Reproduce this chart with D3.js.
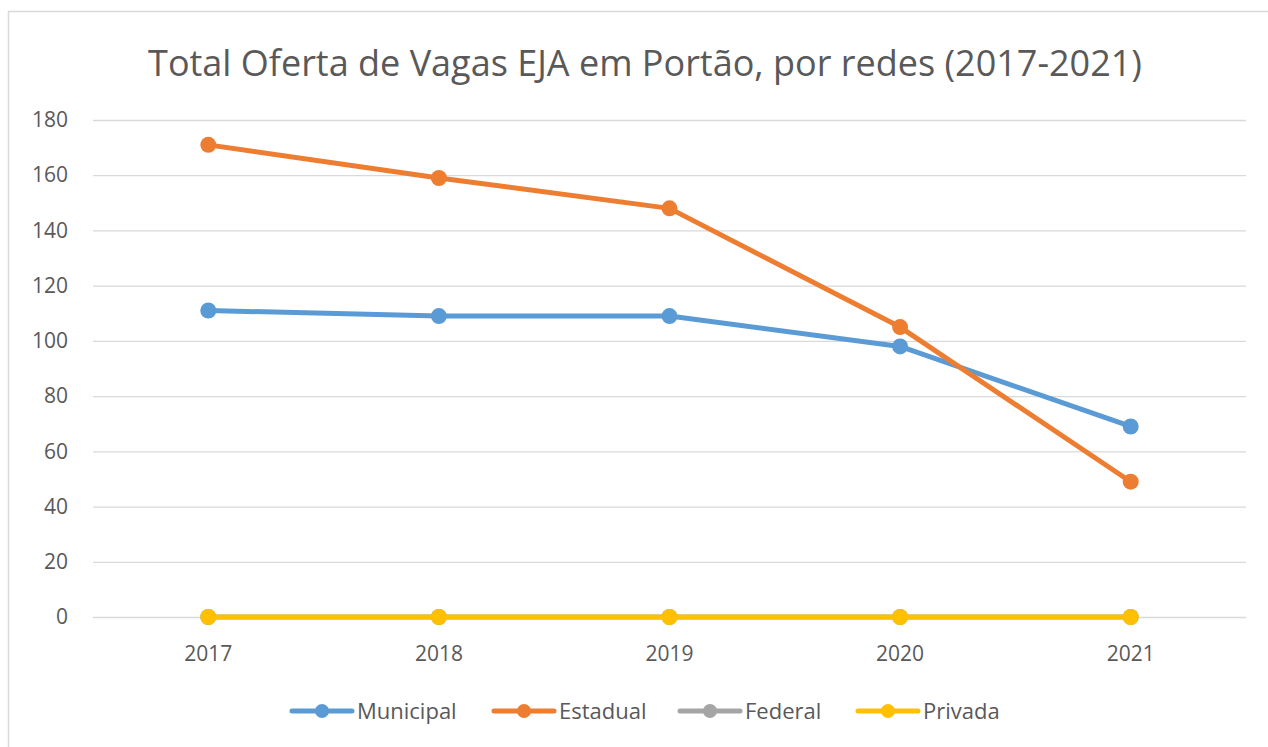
<!DOCTYPE html>
<html><head><meta charset="utf-8">
<script src="https://cdn.jsdelivr.net/npm/d3@7"></script>
<style>html,body{margin:0;padding:0;background:#fff;}svg{display:block;}</style>
</head><body>
<script>
const categories = ["2017","2018","2019","2020","2021"];
const municipal = [111,109,109,98,69];
const estadual = [171,159,148,105,49];
const federal = [0,0,0,0,0];
const privada = [0,0,0,0,0];
const yTicks = [0,20,40,60,80,100,120,140,160,180];
const seriesNames = ["Municipal","Estadual","Federal","Privada"];
const seriesColors = ["#5B9BD5","#ED7D31","#A5A5A5","#FFC000"];
const seriesValues = [municipal, estadual, federal, privada];

(function(){
const W = 1268, H = 747;
const font = "'Open Sans', 'Liberation Sans', sans-serif";
const svg = d3.select("body").append("svg").attr("width", W).attr("height", H);
svg.append("rect").attr("width", W).attr("height", H).attr("fill", "#fff");
svg.append("rect").attr("x", 8.5).attr("y", 11.5).attr("width", W + 10).attr("height", H + 10)
  .attr("fill", "none").attr("stroke", "#d9d9d9").attr("stroke-width", 1.5);

const mL = 93, mR = 1246, mT = 120, mB = 617;
const x = d3.scaleBand().domain(categories).range([mL, mR]);
const y = d3.scaleLinear().domain([0, 180]).range([mB, mT]);

svg.append("text").attr("x", 645).attr("y", 76).attr("text-anchor", "middle")
  .attr("font-family", font).attr("font-size", 36).attr("fill", "#595959")
  .text("Total Oferta de Vagas EJA em Portão, por redes (2017-2021)");

const yAxis = svg.append("g").attr("transform", `translate(${mL},0)`)
  .call(d3.axisLeft(y).tickValues(yTicks).tickSize(-(mR - mL)).tickFormat(d3.format("d")));
yAxis.select(".domain").remove();
yAxis.selectAll(".tick line").attr("stroke", "#d9d9d9").attr("stroke-width", 1.3);
yAxis.selectAll(".tick text").attr("x", -25).attr("font-family", font).attr("font-size", 21).attr("fill", "#595959");

const xAxis = svg.append("g").attr("transform", `translate(0,${mB})`)
  .call(d3.axisBottom(x).tickSize(0));
xAxis.select(".domain").remove();
xAxis.selectAll(".tick text").attr("dy", 0).attr("y", 44).attr("font-family", font).attr("font-size", 21).attr("fill", "#595959");

const line = d3.line().x((d, i) => x(categories[i]) + x.bandwidth() / 2).y(d => y(d));
seriesValues.forEach((vals, s) => {
  const g = svg.append("g");
  g.append("path").datum(vals).attr("d", line).attr("fill", "none")
    .attr("stroke", seriesColors[s]).attr("stroke-width", 5).attr("stroke-linejoin", "round").attr("stroke-linecap", "round");
  g.selectAll("circle").data(vals).join("circle")
    .attr("cx", (d, i) => x(categories[i]) + x.bandwidth() / 2).attr("cy", d => y(d)).attr("r", 8)
    .attr("fill", seriesColors[s]);
});

const legendX = [292, 494, 680, 858];
const ly = 711;
seriesNames.forEach((name, s) => {
  const g = svg.append("g").attr("transform", `translate(${legendX[s]},${ly})`);
  g.append("line").attr("x1", 0).attr("x2", 60).attr("stroke", seriesColors[s]).attr("stroke-width", 5).attr("stroke-linecap", "round");
  g.append("circle").attr("cx", 30).attr("r", 7).attr("fill", seriesColors[s]);
  g.append("text").attr("x", 65).attr("y", 8).attr("font-family", font).attr("font-size", 22).attr("fill", "#595959").text(name);
});
})();
</script>
</body></html>
